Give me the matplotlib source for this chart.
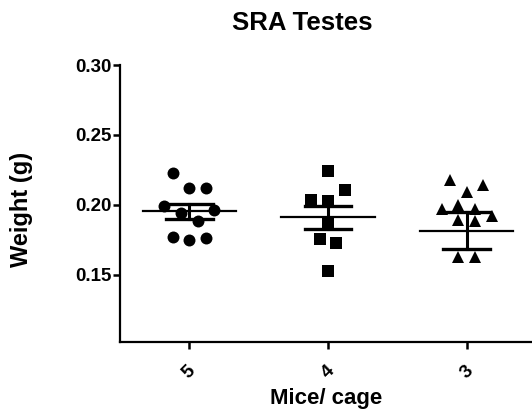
import numpy as np
import matplotlib
matplotlib.use('Agg')
import matplotlib.pyplot as plt

plt.rcParams['font.family'] = ['Liberation Sans', 'DejaVu Sans']
plt.rcParams['font.weight'] = 'bold'

# testes weight per mouse, grouped by number of mice per cage
grupos = ['5', '4', '3']
peso_5 = [0.2229, 0.212, 0.212, 0.1993, 0.1964, 0.194, 0.1886, 0.177, 0.175, 0.176]
peso_4 = [0.2245, 0.2107, 0.2036, 0.2031, 0.186, 0.1755, 0.1731, 0.1524]
peso_3 = [0.2179, 0.2143, 0.2091, 0.1971, 0.200, 0.1971, 0.1924, 0.1893, 0.1886,
          0.1626, 0.1626, 0.046]

# horizontal spread of each point (in marker steps) so they don't overlap
desp_5 = [-2, 0, 2, -3, 3, -1, 1, -2, 0, 2]
desp_4 = [0, 2, -2, 0, 0, -1, 1, 0]
desp_3 = [-2, 2, 0, -3, -1, 1, 3, -1, 1, -1, 1, 0]

pesos = [peso_5, peso_4, peso_3]
desps = [desp_5, desp_4, desp_3]
marcadores = [('o', 8.6), ('s', 8.0), ('^', 9.2)]
paso = 0.06

fig = plt.figure(figsize=(5.32, 4.15), dpi=100)
ax = fig.add_axes([120/532, 1-342/415, 1-120/532, (342-65)/415])

for i in range(len(grupos)):
    y = np.array(pesos[i])
    x = i + paso*np.array(desps[i])
    m, ms = marcadores[i]
    ax.plot(x, y, linestyle='none', marker=m, markersize=ms, color='black',
            markeredgewidth=0, zorder=3)
    media = y.mean()
    sem = y.std(ddof=1)/np.sqrt(len(y))
    ax.plot([i-0.336, i+0.336], [media, media], color='black', lw=1.6, zorder=4)
    ax.plot([i, i], [media-sem, media+sem], color='black', lw=2.2, zorder=4)
    for v in (media-sem, media+sem):
        ax.plot([i-0.168, i+0.168], [v, v], color='black', lw=2.4, zorder=4)

ax.set_xlim(-0.5, 2.47)
ax.set_ylim(0.102, 0.30)
ax.set_yticks([0.15, 0.20, 0.25, 0.30])
ax.set_yticklabels(['0.15', '0.20', '0.25', '0.30'])
ax.set_xticks(range(len(grupos)))
ax.set_xticklabels(grupos, rotation=45, ha='center', va='top')

for s in ['top', 'right']:
    ax.spines[s].set_visible(False)
for s in ['left', 'bottom']:
    ax.spines[s].set_linewidth(1.6)

ax.tick_params(axis='y', length=5, width=1.8, pad=1, labelsize=13.5)
ax.tick_params(axis='x', length=5, width=1.8, pad=10, labelsize=13.5)

ax.set_ylabel('Weight (g)', fontsize=17, fontweight='bold')
ax.yaxis.set_label_coords(-0.212, 0.48)
ax.set_xlabel('Mice/ cage', fontsize=16, fontweight='bold')
ax.xaxis.set_label_coords(0.5, -0.166)

fig.text(302/532, 1-23/415, 'SRA Testes', fontsize=18.5, fontweight='bold',
         ha='center', va='center')

plt.savefig('out.png', dpi=100)
